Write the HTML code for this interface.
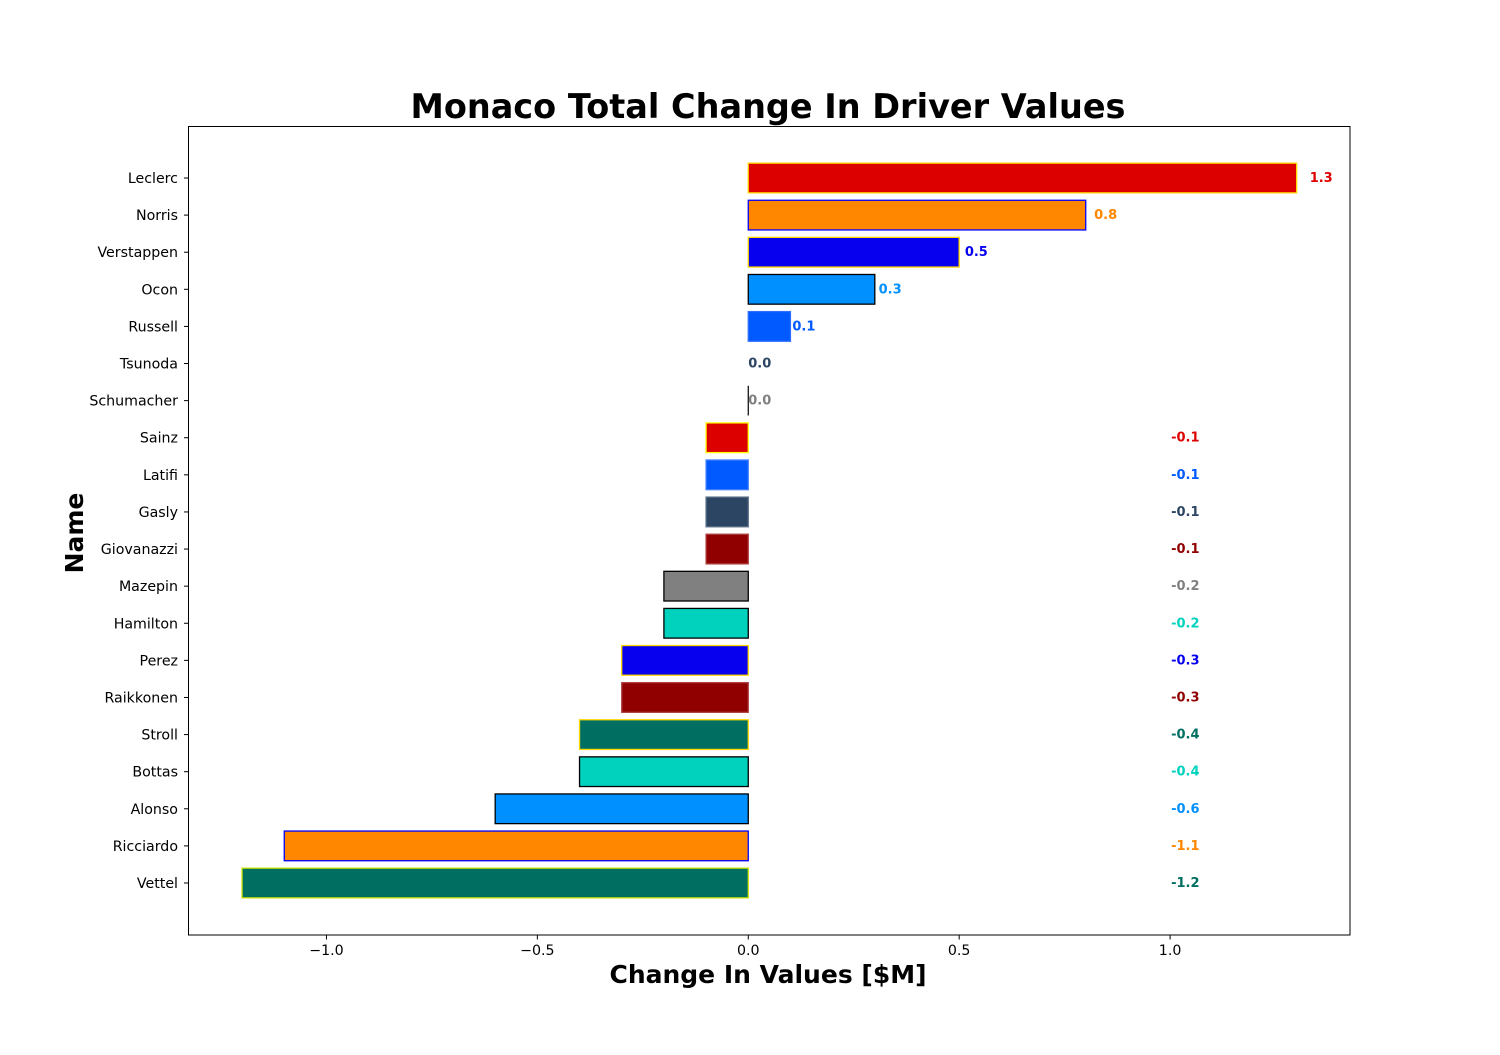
<!DOCTYPE html>
<html><head><meta charset="utf-8">
<style>
html,body{margin:0;padding:0;background:#fff;}
svg text{font-family:"DejaVu Sans","Liberation Sans",sans-serif;}
</style></head>
<body>
<svg id="chart" width="1500" height="1050" xmlns="http://www.w3.org/2000/svg">
<rect width="1500" height="1050" fill="#fff"/>
<text x="768" y="118" text-anchor="middle" font-size="33.5" font-weight="bold">Monaco Total Change In Driver Values</text>
<text x="768" y="983" text-anchor="middle" font-size="25" font-weight="bold">Change In Values [$M]</text>
<text transform="translate(83,533) rotate(-90)" text-anchor="middle" font-size="25" font-weight="bold">Name</text>
<g id="plot"></g>
<rect x="188.5" y="126.5" width="1161.5" height="808.5" fill="none" stroke="#000" stroke-width="1"/>
</svg>
<script>
const names = ["Leclerc","Norris","Verstappen","Ocon","Russell","Tsunoda","Schumacher","Sainz","Latifi","Gasly","Giovanazzi","Mazepin","Hamilton","Perez","Raikkonen","Stroll","Bottas","Alonso","Ricciardo","Vettel"];
const values = [1.3,0.8,0.5,0.3,0.1,0.0,0.0,-0.1,-0.1,-0.1,-0.1,-0.2,-0.2,-0.3,-0.3,-0.4,-0.4,-0.6,-1.1,-1.2];
const fills = ["#dc0000","#ff8700","#0600ef","#0090ff","#005aff","#2b4562","#808080","#dc0000","#005aff","#2b4562","#900000","#808080","#00d2be","#0600ef","#900000","#006f62","#00d2be","#0090ff","#ff8700","#006f62"];
const edges = ["#ffd700","#0000ff","#ffd700","#000000","#2f6fff","#2b4562","#000000","#ffff00","#3f7fff","#5a6f88","#b04040","#000000","#000000","#ffd700","#b04040","#ffd700","#000000","#000000","#0000ff","#c8e000"];
const xTicks = [-1.0,-0.5,0.0,0.5,1.0];
const xTickLabels = ["\u22121.0","\u22120.5","0.0","0.5","1.0"];

const NS="http://www.w3.org/2000/svg";
const g=document.getElementById('plot');
const X0=188.5,X1=1350,XMIN=-1.327,XMAX=1.4265;
const x=v=>X0+(v-XMIN)/(XMAX-XMIN)*(X1-X0);
const Y0=178,STEP=(883-178)/19;
const y=i=>Y0+i*STEP;
const BH=STEP*0.8;
function mk(t,a){const e=document.createElementNS(NS,t);for(const k in a)e.setAttribute(k,a[k]);g.appendChild(e);return e;}

names.forEach((n,i)=>{
  const v=values[i];
  const r=mk('rect',{x:Math.min(x(0),x(v)),y:y(i)-BH/2,width:Math.abs(x(v)-x(0)),height:BH,fill:fills[i],stroke:edges[i],'stroke-width':1.3});
  
  
  if(v===0 && n==="Schumacher"){
    const l=mk('line',{x1:x(0),x2:x(0),y1:y(i)-BH/2,y2:y(i)+BH/2,stroke:'#000','stroke-width':1.2});
    
    
  }
  let lx = v>0 ? x(v*1.022)+1 : (v<0 ? x(1.0)+1 : x(0));
  const t=mk('text',{x:lx,y:y(i)+4,'font-size':13,'font-weight':'bold',fill:fills[i]});
  t.textContent=v.toFixed(1);
  
  
  const tk=mk('line',{x1:188.5,x2:184,y1:y(i),y2:y(i),stroke:'#000','stroke-width':1});
  
  
  const tl=mk('text',{x:178,y:y(i)+5,'font-size':14.2,'text-anchor':'end',fill:'#000'});
  tl.textContent=n;
  
  
});
xTicks.forEach((v,i)=>{
  const tk=mk('line',{x1:x(v),x2:x(v),y1:935,y2:939.5,stroke:'#000','stroke-width':1});
  
  
  const tl=mk('text',{x:x(v),y:955,'font-size':14.2,'text-anchor':'middle',fill:'#000'});
  tl.textContent=xTickLabels[i];
  
  
});
</script>
</body></html>
